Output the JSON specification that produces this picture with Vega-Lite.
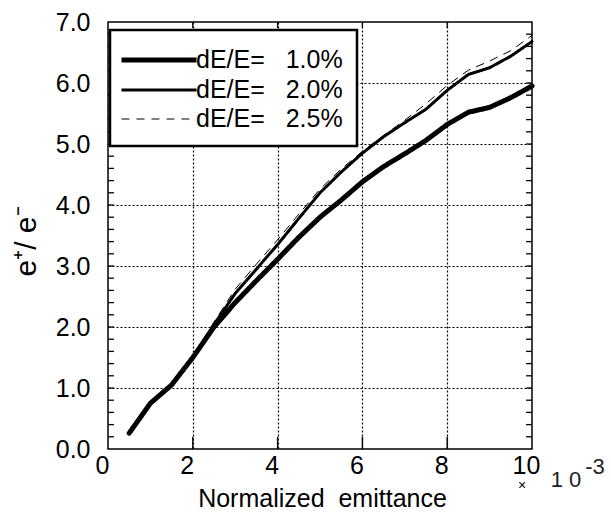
{
  "$schema": "https://vega.github.io/schema/vega-lite/v6.json",
  "width": 424,
  "height": 427,
  "autosize": {"type": "none"},
  "padding": {"left": 108, "top": 22, "right": 79, "bottom": 65},
  "background": "white",
  "config": {
    "view": {"stroke": "black", "strokeWidth": 1.5},
    "font": "Liberation Sans"
  },
  "datasets": {
    "curves": [
      {"e": 0.5, "r": 0.26, "s": "dE/E=\u00a0\u00a0 1.0%"},
      {"e": 1.0, "r": 0.75, "s": "dE/E=\u00a0\u00a0 1.0%"},
      {"e": 1.5, "r": 1.05, "s": "dE/E=\u00a0\u00a0 1.0%"},
      {"e": 2.0, "r": 1.50, "s": "dE/E=\u00a0\u00a0 1.0%"},
      {"e": 2.5, "r": 2.00, "s": "dE/E=\u00a0\u00a0 1.0%"},
      {"e": 3.0, "r": 2.40, "s": "dE/E=\u00a0\u00a0 1.0%"},
      {"e": 3.5, "r": 2.76, "s": "dE/E=\u00a0\u00a0 1.0%"},
      {"e": 4.0, "r": 3.11, "s": "dE/E=\u00a0\u00a0 1.0%"},
      {"e": 4.5, "r": 3.47, "s": "dE/E=\u00a0\u00a0 1.0%"},
      {"e": 5.0, "r": 3.80, "s": "dE/E=\u00a0\u00a0 1.0%"},
      {"e": 5.5, "r": 4.08, "s": "dE/E=\u00a0\u00a0 1.0%"},
      {"e": 6.0, "r": 4.38, "s": "dE/E=\u00a0\u00a0 1.0%"},
      {"e": 6.5, "r": 4.63, "s": "dE/E=\u00a0\u00a0 1.0%"},
      {"e": 7.0, "r": 4.84, "s": "dE/E=\u00a0\u00a0 1.0%"},
      {"e": 7.5, "r": 5.06, "s": "dE/E=\u00a0\u00a0 1.0%"},
      {"e": 8.0, "r": 5.32, "s": "dE/E=\u00a0\u00a0 1.0%"},
      {"e": 8.5, "r": 5.52, "s": "dE/E=\u00a0\u00a0 1.0%"},
      {"e": 9.0, "r": 5.60, "s": "dE/E=\u00a0\u00a0 1.0%"},
      {"e": 9.5, "r": 5.76, "s": "dE/E=\u00a0\u00a0 1.0%"},
      {"e": 10.0, "r": 5.95, "s": "dE/E=\u00a0\u00a0 1.0%"},
      {"e": 0.5, "r": 0.26, "s": "dE/E=\u00a0\u00a0 2.0%"},
      {"e": 1.0, "r": 0.75, "s": "dE/E=\u00a0\u00a0 2.0%"},
      {"e": 1.5, "r": 1.05, "s": "dE/E=\u00a0\u00a0 2.0%"},
      {"e": 2.0, "r": 1.50, "s": "dE/E=\u00a0\u00a0 2.0%"},
      {"e": 2.5, "r": 2.04, "s": "dE/E=\u00a0\u00a0 2.0%"},
      {"e": 3.0, "r": 2.55, "s": "dE/E=\u00a0\u00a0 2.0%"},
      {"e": 3.5, "r": 2.95, "s": "dE/E=\u00a0\u00a0 2.0%"},
      {"e": 4.0, "r": 3.35, "s": "dE/E=\u00a0\u00a0 2.0%"},
      {"e": 4.5, "r": 3.78, "s": "dE/E=\u00a0\u00a0 2.0%"},
      {"e": 5.0, "r": 4.20, "s": "dE/E=\u00a0\u00a0 2.0%"},
      {"e": 5.5, "r": 4.54, "s": "dE/E=\u00a0\u00a0 2.0%"},
      {"e": 6.0, "r": 4.85, "s": "dE/E=\u00a0\u00a0 2.0%"},
      {"e": 6.5, "r": 5.12, "s": "dE/E=\u00a0\u00a0 2.0%"},
      {"e": 7.0, "r": 5.35, "s": "dE/E=\u00a0\u00a0 2.0%"},
      {"e": 7.5, "r": 5.57, "s": "dE/E=\u00a0\u00a0 2.0%"},
      {"e": 8.0, "r": 5.88, "s": "dE/E=\u00a0\u00a0 2.0%"},
      {"e": 8.5, "r": 6.14, "s": "dE/E=\u00a0\u00a0 2.0%"},
      {"e": 9.0, "r": 6.25, "s": "dE/E=\u00a0\u00a0 2.0%"},
      {"e": 9.5, "r": 6.44, "s": "dE/E=\u00a0\u00a0 2.0%"},
      {"e": 10.0, "r": 6.68, "s": "dE/E=\u00a0\u00a0 2.0%"},
      {"e": 0.5, "r": 0.26, "s": "dE/E=\u00a0\u00a0 2.5%"},
      {"e": 1.0, "r": 0.75, "s": "dE/E=\u00a0\u00a0 2.5%"},
      {"e": 1.5, "r": 1.05, "s": "dE/E=\u00a0\u00a0 2.5%"},
      {"e": 2.0, "r": 1.52, "s": "dE/E=\u00a0\u00a0 2.5%"},
      {"e": 2.5, "r": 2.08, "s": "dE/E=\u00a0\u00a0 2.5%"},
      {"e": 3.0, "r": 2.62, "s": "dE/E=\u00a0\u00a0 2.5%"},
      {"e": 3.5, "r": 3.03, "s": "dE/E=\u00a0\u00a0 2.5%"},
      {"e": 4.0, "r": 3.43, "s": "dE/E=\u00a0\u00a0 2.5%"},
      {"e": 4.5, "r": 3.85, "s": "dE/E=\u00a0\u00a0 2.5%"},
      {"e": 5.0, "r": 4.26, "s": "dE/E=\u00a0\u00a0 2.5%"},
      {"e": 5.5, "r": 4.59, "s": "dE/E=\u00a0\u00a0 2.5%"},
      {"e": 6.0, "r": 4.88, "s": "dE/E=\u00a0\u00a0 2.5%"},
      {"e": 6.5, "r": 5.14, "s": "dE/E=\u00a0\u00a0 2.5%"},
      {"e": 7.0, "r": 5.39, "s": "dE/E=\u00a0\u00a0 2.5%"},
      {"e": 7.5, "r": 5.66, "s": "dE/E=\u00a0\u00a0 2.5%"},
      {"e": 8.0, "r": 5.96, "s": "dE/E=\u00a0\u00a0 2.5%"},
      {"e": 8.5, "r": 6.21, "s": "dE/E=\u00a0\u00a0 2.5%"},
      {"e": 9.0, "r": 6.36, "s": "dE/E=\u00a0\u00a0 2.5%"},
      {"e": 9.5, "r": 6.53, "s": "dE/E=\u00a0\u00a0 2.5%"},
      {"e": 10.0, "r": 6.78, "s": "dE/E=\u00a0\u00a0 2.5%"}
    ],
    "ytick": [
      {"v": 0.2}, {"v": 0.4}, {"v": 0.6}, {"v": 0.8}, {"v": 1.0},
      {"v": 1.2}, {"v": 1.4}, {"v": 1.6}, {"v": 1.8}, {"v": 2.0},
      {"v": 2.2}, {"v": 2.4}, {"v": 2.6}, {"v": 2.8}, {"v": 3.0},
      {"v": 3.2}, {"v": 3.4}, {"v": 3.6}, {"v": 3.8}, {"v": 4.0},
      {"v": 4.2}, {"v": 4.4}, {"v": 4.6}, {"v": 4.8}, {"v": 5.0},
      {"v": 5.2}, {"v": 5.4}, {"v": 5.6}, {"v": 5.8}, {"v": 6.0},
      {"v": 6.2}, {"v": 6.4}, {"v": 6.6}, {"v": 6.8}
    ],
    "xtick": [{"v": 2}, {"v": 4}, {"v": 6}, {"v": 8}]
  },
  "resolve": {"axis": {"x": "independent", "y": "independent"}},
  "layer": [
    {
      "data": {"name": "curves"},
      "mark": {"type": "line", "color": "black", "strokeJoin": "round", "strokeCap": "round"},
      "encoding": {
        "x": {
          "field": "e", "type": "quantitative",
          "scale": {"domain": [0, 10], "nice": false, "zero": false},
          "axis": {
            "orient": "bottom",
            "values": [0, 2, 4, 6, 8, 10],
            "format": "d",
            "labelFlush": false, "labelOverlap": false,
            "domain": false, "ticks": false,
            "grid": true, "gridColor": "black", "gridDash": [2, 2], "gridWidth": 1.2,
            "gridOpacity": {"condition": {"test": "datum.value > 0 && datum.value < 10", "value": 1}, "value": 0},
            "labelFontSize": 25, "labelFont": "Liberation Sans", "labelColor": "black",
            "labelPadding": 4, "labelOffset": -6,
            "title": "Normalized\u00a0 emittance",
            "titleFontSize": 25, "titleFont": "Liberation Sans", "titleFontWeight": "normal", "titleColor": "black",
            "titleY": 57, "titleX": 214, "titleAlign": "center", "titleBaseline": "alphabetic"
          }
        },
        "y": {
          "field": "r", "type": "quantitative",
          "scale": {"domain": [0, 7], "nice": false, "zero": false},
          "axis": {
            "orient": "left",
            "values": [0, 1, 2, 3, 4, 5, 6, 7],
            "format": ".1f",
            "labelFlush": false, "labelOverlap": false,
            "domain": false, "ticks": false,
            "grid": true, "gridColor": "black", "gridDash": [2, 2], "gridWidth": 1.2,
            "gridOpacity": {"condition": {"test": "datum.value > 0 && datum.value < 7", "value": 1}, "value": 0},
            "labelFontSize": 25, "labelFont": "Liberation Sans", "labelColor": "black",
            "labelPadding": 18,
            "title": "e\u207a/ e\u207b",
            "titleFontSize": 30, "titleFont": "Liberation Sans", "titleFontWeight": "normal", "titleColor": "black",
            "titleX": -82, "titleY": 219, "titleAngle": -90, "titleAlign": "center", "titleBaseline": "middle"
          }
        },
        "strokeDash": {
          "field": "s", "type": "nominal",
          "scale": {"range": [[1, 0], [1, 0], [8, 7]]},
          "legend": {
            "title": null, "orient": "none", "legendX": 2, "legendY": 8,
            "strokeColor": "black", "fillColor": "white", "padding": 14,
            "symbolType": "M-2.78,0H2.78", "symbolSize": 729, "symbolOffset": 19,
            "symbolStrokeColor": "black",
            "labelFontSize": 25, "labelFont": "Liberation Sans", "labelColor": "black",
            "labelOffset": 21, "rowPadding": 2,
            "encode": {"legend": {"update": {"strokeWidth": {"value": 2.5}}}}
          }
        },
        "strokeWidth": {
          "field": "s", "type": "nominal",
          "scale": {"range": [5, 1, 1.2]},
          "legend": {
            "title": null, "orient": "none", "legendX": 2, "legendY": 8,
            "strokeColor": "black", "fillColor": "white", "padding": 14,
            "symbolType": "M-2.78,0H2.78", "symbolSize": 729, "symbolOffset": 19,
            "symbolStrokeColor": "black",
            "labelFontSize": 25, "labelFont": "Liberation Sans", "labelColor": "black",
            "labelOffset": 21, "rowPadding": 2,
            "encode": {"legend": {"update": {"strokeWidth": {"value": 2.5}}}}
          }
        }
      }
    },
    {
      "data": {"name": "ytick"},
      "mark": {"type": "rule", "color": "black", "strokeWidth": 1.3},
      "encoding": {
        "y": {"field": "v", "type": "quantitative", "axis": null},
        "x": {"datum": 0, "type": "quantitative", "axis": null},
        "x2": {"datum": 0.14}
      }
    },
    {
      "data": {"name": "ytick"},
      "mark": {"type": "rule", "color": "black", "strokeWidth": 1.3},
      "encoding": {
        "y": {"field": "v", "type": "quantitative", "axis": null},
        "x": {"datum": 10, "type": "quantitative", "axis": null},
        "x2": {"datum": 9.86}
      }
    },
    {
      "data": {"name": "xtick"},
      "mark": {"type": "rule", "color": "black", "strokeWidth": 1.4},
      "encoding": {
        "x": {"field": "v", "type": "quantitative", "axis": null},
        "y": {"datum": 0, "type": "quantitative", "axis": null},
        "y2": {"datum": 0.2}
      }
    },
    {
      "data": {"name": "xtick"},
      "mark": {"type": "rule", "color": "black", "strokeWidth": 1.3},
      "encoding": {
        "x": {"field": "v", "type": "quantitative", "axis": null},
        "y": {"datum": 7, "type": "quantitative", "axis": null},
        "y2": {"datum": 6.9}
      }
    },
    {
      "data": {"values": [{"t": "\u00d7"}]},
      "mark": {"type": "text", "fontSize": 14, "font": "Liberation Sans", "color": "black", "align": "center", "baseline": "middle", "dx": -10, "dy": 37},
      "encoding": {
        "text": {"field": "t"},
        "x": {"datum": 10, "type": "quantitative", "axis": null},
        "y": {"datum": 0, "type": "quantitative", "axis": null}
      }
    },
    {
      "data": {"values": [{"t": "1 0"}]},
      "mark": {"type": "text", "fontSize": 22, "font": "Liberation Sans", "color": "#222", "align": "center", "baseline": "middle", "dx": 34, "dy": 31},
      "encoding": {
        "text": {"field": "t"},
        "x": {"datum": 10, "type": "quantitative", "axis": null},
        "y": {"datum": 0, "type": "quantitative", "axis": null}
      }
    },
    {
      "data": {"values": [{"t": "-3"}]},
      "mark": {"type": "text", "fontSize": 22, "font": "Liberation Sans", "color": "#222", "align": "center", "baseline": "middle", "dx": 63, "dy": 18},
      "encoding": {
        "text": {"field": "t"},
        "x": {"datum": 10, "type": "quantitative", "axis": null},
        "y": {"datum": 0, "type": "quantitative", "axis": null}
      }
    }
  ]
}
